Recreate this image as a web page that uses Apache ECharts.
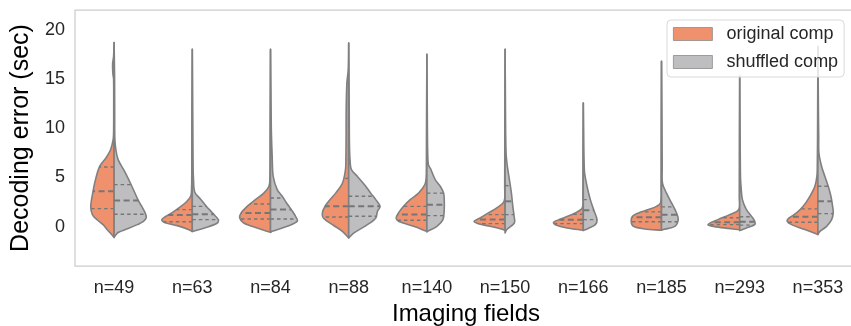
<!DOCTYPE html>
<html>
<head>
<meta charset="utf-8">
<script src="https://cdn.jsdelivr.net/npm/echarts@6/dist/echarts.min.js"></script>
<style>
  html, body { margin: 0; padding: 0; background: #fff; }
  #chart { width: 851px; height: 326px; }
</style>
</head>
<body>
<div id="chart"></div>
<script>
  // categories (imaging fields) and legend names
  const categories = ['n=49', 'n=63', 'n=84', 'n=88', 'n=140', 'n=150', 'n=166', 'n=185', 'n=293', 'n=353'];
  const seriesNames = ['original comp', 'shuffled comp'];
  const yTicks = [0, 5, 10, 15, 20];

  // density profiles: [decoding error (sec), density], top to bottom
  const originalProfiles = [
    [[18.7, 0], [17.3, 0.5], [16.5, 1.5], [15.5, 1.2], [15, 0.5], [12, 0.4], [9.5, 0.5], [8.8, 1], [7.8, 3.5], [7, 8], [6.1, 14.5], [4.8, 18.5], [3.6, 21], [2.0, 23.3], [1.2, 21.5], [0.7, 17], [0.2, 11], [-0.3, 7], [-0.8, 2.5], [-1.1, 0]],
    [[18, 0], [12, 0.4], [6, 0.5], [4, 0.7], [3.1, 1.5], [2.5, 6], [2.0, 12], [1.5, 19], [1.0, 27], [0.7, 30.5], [0.4, 27], [0.1, 15], [-0.3, 4], [-0.5, 0]],
    [[18, 0], [10, 0.4], [5, 0.6], [4.1, 1.5], [3.4, 6.7], [2.74, 15], [2.06, 23.3], [1.39, 29.3], [0.88, 30.7], [0.37, 26.7], [-0.14, 13.3], [-0.58, 0]],
    [[18.65, 0], [16, 0.4], [14.6, 1.8], [12, 2.5], [9, 2.6], [7, 2.8], [5.8, 3.2], [4.4, 6.3], [3.4, 13], [2.74, 18.7], [2.06, 23.7], [1.39, 26.3], [0.88, 25.3], [0.2, 16.3], [-0.48, 6.3], [-1.15, 0]],
    [[17.5, 0], [10, 0.4], [6, 0.5], [4.9, 0.8], [4.26, 2], [3.4, 8.3], [2.74, 16.7], [2.06, 23.3], [1.39, 28.3], [0.88, 30.7], [0.54, 28.3], [0.03, 13.3], [-0.48, 0]],
    [[18, 0], [10, 0.3], [4, 0.4], [2.57, 1], [1.9, 8.3], [1.39, 16.7], [0.88, 25], [0.54, 31], [0.3, 26.7], [0.03, 15], [-0.3, 2], [-0.4, 0]],
    [[12.56, 0], [8, 0.3], [3, 0.4], [1.9, 1], [1.39, 8], [0.88, 19.7], [0.44, 29.7], [0.2, 28], [-0.14, 16.3], [-0.37, 0]],
    [[16.8, 0], [10, 0.3], [4, 0.4], [2.4, 1], [2.06, 5], [1.73, 13], [1.39, 23], [1.05, 29], [0.54, 30.3], [0.03, 28], [-0.24, 16.7], [-0.37, 0]],
    [[15.3, 0], [8, 0.3], [3, 0.4], [1.73, 1], [1.22, 10], [0.71, 21.7], [0.2, 31.7], [-0.03, 23.3], [-0.24, 6.7], [-0.32, 0]],
    [[18.3, 0], [10, 0.3], [6, 0.6], [5.1, 1], [4.1, 3], [3.08, 8], [2.06, 14.7], [1.39, 21.3], [0.88, 28.7], [0.54, 30.7], [0.2, 26.3], [-0.3, 13], [-0.8, 0]]
  ];
  const shuffledProfiles = [
    [[18.7, 0], [15, 0.5], [10, 0.6], [8.8, 0.8], [7.8, 1.8], [6.8, 4], [5.5, 11], [4.1, 17.7], [2.7, 24], [1.4, 31], [0.9, 32], [0.5, 29], [0.2, 23], [-0.2, 14], [-0.6, 4], [-1.1, 0]],
    [[18, 0], [10, 0.5], [6, 0.8], [4.8, 1.2], [3.5, 2.5], [2.74, 8.7], [2.1, 13.7], [1.4, 20], [0.7, 26], [0.37, 25], [-0.1, 13.7], [-0.5, 0]],
    [[18, 0], [10, 0.8], [7.1, 1.7], [5.1, 2.7], [3.76, 6.7], [3.08, 11.7], [2.4, 16], [1.73, 20.7], [1.05, 25], [0.54, 26.7], [0.03, 16.7], [-0.48, 1.7], [-0.58, 0]],
    [[18.65, 0], [12, 0.5], [8, 0.8], [6.5, 1.5], [5.8, 2.7], [5.1, 8.7], [4.1, 17], [3.4, 22], [2.74, 27], [2.06, 31.3], [1.56, 28.7], [0.88, 27], [0.2, 18.7], [-0.64, 5.3], [-1.15, 0]],
    [[17.5, 0], [10, 0.5], [7.5, 0.8], [6.3, 1.5], [5.8, 4], [4.77, 8.3], [4.1, 13.3], [3.4, 16.7], [2.74, 17.3], [1.73, 17.3], [0.71, 16], [0.03, 10], [-0.48, 0.7], [-0.55, 0]],
    [[18, 0], [10, 0.5], [8, 0.8], [7.1, 1.2], [6.1, 2.3], [4.77, 4.3], [3.4, 6.3], [2.06, 7.7], [1.05, 9], [0.37, 9.3], [-0.3, 1.7], [-0.64, 0]],
    [[12.56, 0], [8, 0.5], [6.5, 0.8], [5.45, 1.3], [4.1, 3.7], [2.74, 7], [1.73, 10.3], [0.71, 13.7], [0.2, 12], [-0.24, 3.7], [-0.4, 0]],
    [[16.8, 0], [10, 0.5], [6, 0.7], [4.4, 1], [3.4, 5], [2.4, 10], [1.39, 15], [0.71, 16.7], [0.03, 13.3], [-0.3, 1.7], [-0.37, 0]],
    [[15.3, 0], [8, 0.5], [5, 0.8], [4.1, 1.3], [2.74, 2.7], [1.73, 6.7], [1.05, 11.7], [0.54, 15], [0.2, 15], [-0.14, 6.7], [-0.4, 0]],
    [[18.3, 0], [12, 0.5], [9, 0.8], [7.5, 1], [6.1, 3.7], [5.1, 7], [4.1, 10.3], [3.08, 13], [2.06, 14.7], [1.39, 15.3], [0.71, 13.7], [0.03, 8.7], [-0.48, 2], [-0.8, 0]]
  ];

  // inner quartile lines: [q1, median, q3]
  const originalQuartiles = [
    [1.83, 3.6, 6.06], [0.5, 1.19, 1.73], [0.78, 1.39, 2.3], [0.98, 2.06, 4.9], [0.64, 1.22, 2.06],
    [0.3, 0.71, 1.22], [0.3, 0.7, 1.25], [0.5, 0.95, 1.5], [0.2, 0.45, 0.9], [0.45, 1.0, 1.8]
  ];
  const shuffledQuartiles = [
    [1.25, 2.64, 4.26], [0.71, 1.25, 2.06], [0.78, 1.73, 2.9], [1.05, 2.06, 3.08], [1.12, 2.23, 3.4],
    [1.22, 2.57, 4.16], [0.71, 1.66, 2.74], [0.5, 1.2, 2.0], [0.15, 0.5, 1.0], [1.32, 2.57, 4.1]
  ];

  const colors = ['#F0916E', '#BEBEC0'];
  const edgeColor = '#808080';
  const fontFamily = '"Liberation Sans", Arial, sans-serif';
  const maxDensity = 32;

  // smooth curve through the outline points
  function outlinePath(pts) {
    const dist = (a, b) => Math.hypot(b[0] - a[0], b[1] - a[1]);
    let d = 'M' + pts[0][0] + ' ' + pts[0][1];
    for (let i = 0; i < pts.length - 1; i++) {
      const p0 = pts[i - 1] || pts[i];
      const p1 = pts[i];
      const p2 = pts[i + 1];
      const p3 = pts[i + 2] || pts[i + 1];
      const d01 = dist(p0, p1), d12 = dist(p1, p2), d23 = dist(p2, p3);
      const k1 = d01 + d12 > 0 ? d12 / (3 * (d01 + d12)) : 0;
      const k2 = d12 + d23 > 0 ? d12 / (3 * (d12 + d23)) : 0;
      const c1 = [p1[0] + (p2[0] - p0[0]) * k1, p1[1] + (p2[1] - p0[1]) * k1];
      const c2 = [p2[0] - (p3[0] - p1[0]) * k2, p2[1] - (p3[1] - p1[1]) * k2];
      d += ' C' + c1[0] + ' ' + c1[1] + ' ' + c2[0] + ' ' + c2[1] + ' ' + p2[0] + ' ' + p2[1];
    }
    return d + ' Z';
  }

  function widthAt(prof, v) {
    for (let i = 0; i < prof.length - 1; i++) {
      const a = prof[i], b = prof[i + 1];
      if (v <= a[0] && v >= b[0]) {
        const t = (a[0] - v) / (a[0] - b[0]);
        return a[1] + (b[1] - a[1]) * t;
      }
    }
    return 0;
  }

  function makeRender(profiles, quartiles, side, color) {
    return function (params, api) {
      const i = api.value(0);
      const prof = profiles[i];
      const scale = api.size([1, 0])[0] * 0.41 / maxDensity;
      const cx = api.coord([i, 0])[0];
      const pts = prof.map(function (p) {
        return [cx + side * p[1] * scale, api.coord([i, p[0]])[1]];
      });
      const children = [{
        type: 'path',
        shape: { pathData: outlinePath(pts) },
        style: { fill: color, stroke: edgeColor, lineWidth: 1.6, lineJoin: 'round' }
      }];
      quartiles[i].forEach(function (q, k) {
        const y = api.coord([i, q])[1];
        const w = widthAt(prof, q) * scale;
        children.push({
          type: 'line',
          shape: { x1: cx, y1: y, x2: cx + side * w, y2: y },
          style: {
            stroke: '#767676',
            lineWidth: k === 1 ? 2 : 1.4,
            lineDash: k === 1 ? [6, 3.5] : [3.5, 3]
          }
        });
      });
      return { type: 'group', children: children };
    };
  }

  const chart = echarts.init(document.getElementById('chart'));
  chart.setOption({
    animation: false,
    backgroundColor: '#fff',
    grid: {
      left: 75, top: 10, width: 782, height: 256,
      outerBoundsMode: 'none',
      containLabel: false,
      show: true, borderColor: '#cccccc', borderWidth: 1.25, backgroundColor: '#fff'
    },
    legend: {
      orient: 'vertical',
      left: 667, top: 20,
      itemWidth: 39, itemHeight: 13, itemGap: 10,
      padding: [5, 6, 6, 6],
      icon: 'rect',
      selectedMode: false,
      backgroundColor: 'rgba(255,255,255,0.8)',
      borderColor: '#d9d9d9', borderWidth: 1, borderRadius: 4,
      itemStyle: { borderColor: '#8a8a8a', borderWidth: 0.8 },
      textStyle: { fontSize: 18, color: '#262626', fontFamily: fontFamily, padding: [0, 0, 0, 9] },
      data: seriesNames
    },
    xAxis: {
      type: 'category',
      data: categories,
      axisLine: { show: false },
      axisTick: { show: false },
      axisLabel: { fontSize: 18, color: '#262626', fontFamily: fontFamily, margin: 13 },
      splitLine: { show: false },
      name: 'Imaging fields',
      nameLocation: 'middle',
      nameGap: 32,
      nameTextStyle: { fontSize: 24, color: '#000', fontFamily: fontFamily }
    },
    yAxis: {
      type: 'value',
      min: -4, max: 22,
      axisLine: { show: false },
      axisTick: { show: false },
      splitLine: { show: false },
      axisLabel: { customValues: yTicks, fontSize: 18, color: '#262626', fontFamily: fontFamily, margin: 10 },
      name: 'Decoding error (sec)',
      nameLocation: 'middle',
      nameGap: 37,
      nameRotate: 90,
      nameTextStyle: { fontSize: 25, color: '#000', fontFamily: fontFamily }
    },
    series: [
      {
        name: seriesNames[0],
        type: 'custom',
        itemStyle: { color: colors[0] },
        encode: { x: 0 },
        data: categories.map(function (c, i) { return [i]; }),
        renderItem: makeRender(originalProfiles, originalQuartiles, -1, colors[0]),
        z: 2
      },
      {
        name: seriesNames[1],
        type: 'custom',
        itemStyle: { color: colors[1] },
        encode: { x: 0 },
        data: categories.map(function (c, i) { return [i]; }),
        renderItem: makeRender(shuffledProfiles, shuffledQuartiles, 1, colors[1]),
        z: 2
      }
    ]
  });
</script>
</body>
</html>
